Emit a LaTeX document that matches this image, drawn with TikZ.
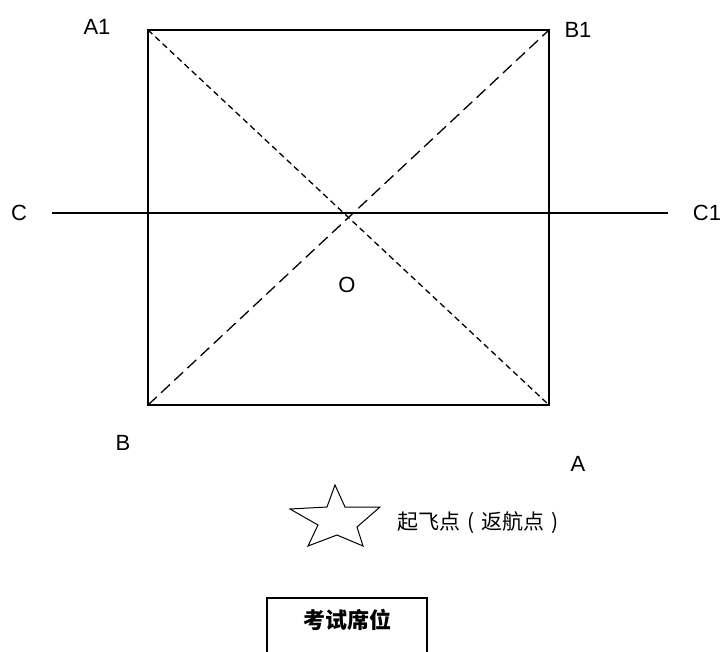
\documentclass[tikz,border=0pt]{standalone}
\usepackage{fontspec}
\setmainfont{Liberation Sans}
\newfontfamily\cjk{Noto Sans CJK SC}
\newcommand{\cpar}[1]{\makebox[1em][c]{#1}}
\begin{document}
\begin{tikzpicture}[x=1pt,y=-1pt,
  lbl/.style={font=\fontsize{22}{26}\selectfont, inner sep=0pt},
  cjklbl/.style={font=\cjk\fontsize{21}{25}\selectfont, inner sep=0pt},
  edge/.style={line width=1.4pt},
  shortdash/.style={line width=1.3pt, dash pattern=on 6pt off 4pt},
  longdash/.style={line width=1.3pt, dash pattern=on 12pt off 6pt}]
\useasboundingbox (0,0) rectangle (723,651);
% corners
\coordinate (A1c) at (148,30);
\coordinate (B1c) at (549,30);
\coordinate (Ac) at (549,405);
\coordinate (Bc) at (148,405);
\coordinate (Cs) at (52,213);
\coordinate (Ce) at (668,213);
% rectangle
\draw[edge] (A1c) -- (B1c) -- (Ac) -- (Bc) -- cycle;
% horizontal line
\draw[edge] (Cs) -- (Ce);
% diagonals
\draw[shortdash] (A1c) -- (Ac);
\draw[longdash] (Bc) -- (B1c);
% labels
\node[lbl] (lA1) at (97,27) {A1};
\node[lbl] (lB1) at (578,30) {B1};
\node[lbl] (lC) at (19,213) {C};
\node[lbl] (lC1) at (707,213) {C1};
\node[lbl] (lO) at (347,285) {O};
\node[lbl] (lB) at (123,443) {B};
\node[lbl] (lA) at (578,464) {A};
% star
\draw[line width=1pt, line join=miter] (335,485) -- (345,507) -- (380,507) -- (357,527) -- (363,546) -- (337,535) -- (308,546) -- (318,525) -- (290,509) -- (327,507) -- cycle;
\node[cjklbl, anchor=west] (takeoff) at (397,523) {起飞点\cpar{(}返航点\cpar{)}};
% seat box
\draw[edge] (267,660) -- (267,598) -- (427,598) -- (427,660);
\node[cjklbl, font=\cjk\bfseries\fontsize{22}{26}\selectfont] (seat) at (347,620) {考试席位};
\end{tikzpicture}
\end{document}
